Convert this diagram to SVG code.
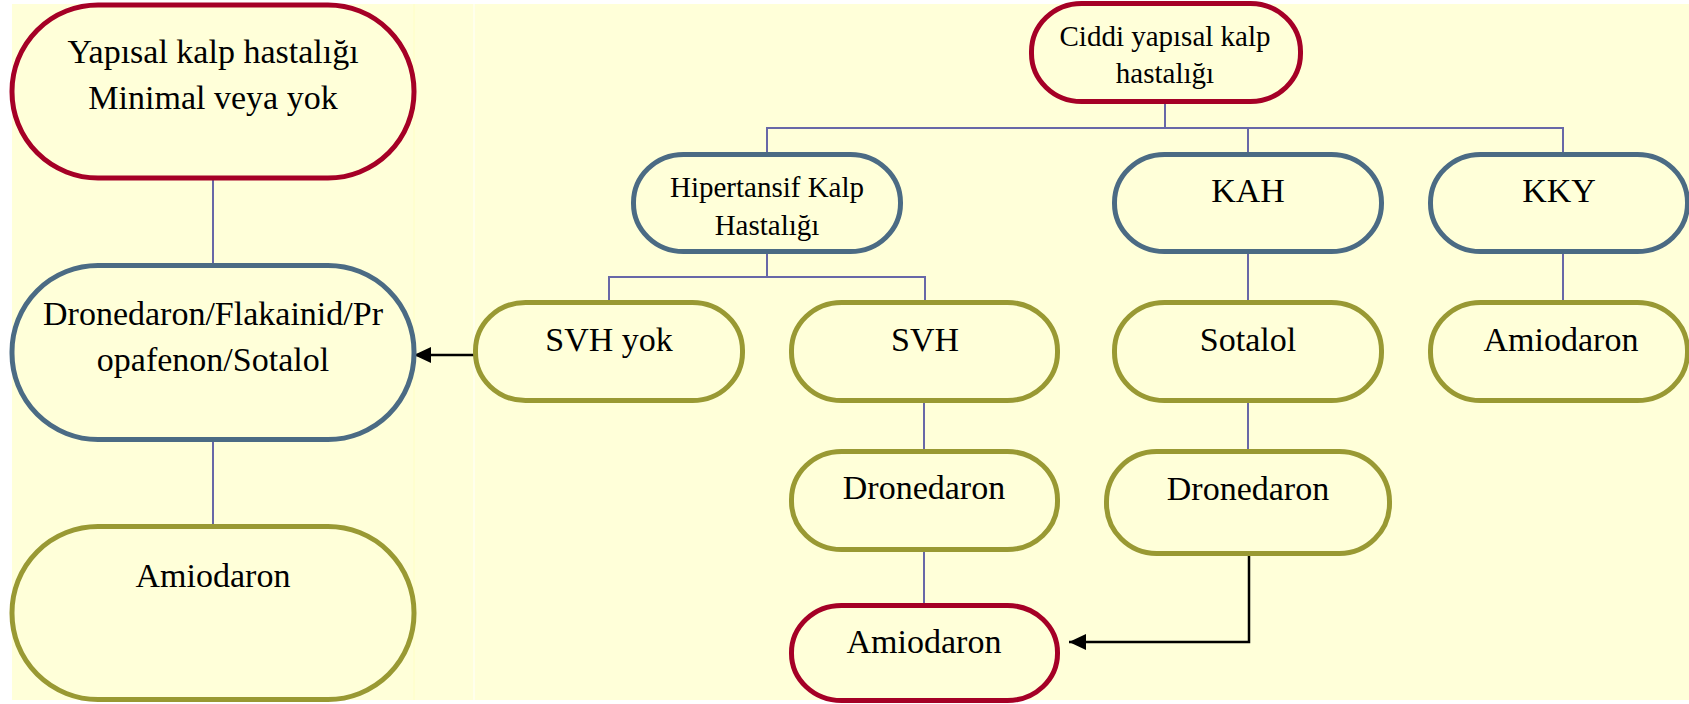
<svg xmlns="http://www.w3.org/2000/svg" width="1689" height="704" viewBox="0 0 1689 704">
<style>
.n rect{fill:#FFFFD9;stroke-width:5}
.red rect{stroke:#A50026}
.blue rect{stroke:#4B6B84}
.olive rect{stroke:#999933}
text{font-family:"Liberation Serif","Times New Roman",serif;fill:#000;text-anchor:middle}
.big{font-size:34px}
.sm{font-size:29px}
.c{fill:none;stroke:#6868A8;stroke-width:2}
.a{fill:none;stroke:#000;stroke-width:2.5}
</style>
<defs>
<marker id="ah" markerUnits="userSpaceOnUse" markerWidth="18" markerHeight="16" refX="17" refY="8" orient="auto">
<path d="M0,0 L17,8 L0,16 Z" fill="#000"/>
</marker>
</defs>
<rect x="0" y="0" width="1689" height="704" fill="#FFFFFF"/>
<rect x="12" y="4" width="1677" height="696" fill="#FFFFD9"/>
<line x1="414" y1="4" x2="414" y2="700" stroke="#FFFFC4" stroke-width="1"/>
<line x1="474" y1="4" x2="474" y2="700" stroke="#FFFFFF" stroke-width="1"/>

<g id="connectors">
<path class="c" d="M213,178 V265"/>
<path class="c" d="M213,440 V526"/>
<path class="c" d="M1165,102 V128 M767,152 V128 H1563 V152 M1248,128 V152"/>
<path class="c" d="M767,252 V277 M609,300 V277 H925 V300"/>
<path class="c" d="M1248,252 V300 M1563,252 V300"/>
<path class="c" d="M924,401 V449 M924,550 V603"/>
<path class="c" d="M1248,401 V449"/>
<path class="a" d="M475,355 H414" marker-end="url(#ah)"/>
<path class="a" d="M1249,547 V642 H1069" marker-end="url(#ah)"/>
</g>

<g id="n-yapisal" class="n red">
<rect x="12" y="5" width="402" height="173" rx="86" ry="86"/>
<text class="big" x="213" y="63">Yapısal kalp hastalığı</text>
<text class="big" x="213" y="109">Minimal veya yok</text>
</g>
<g id="n-dfps" class="n blue">
<rect x="12" y="265.5" width="402" height="174" rx="86" ry="86"/>
<text class="big" x="213" y="325">Dronedaron/Flakainid/Pr</text>
<text class="big" x="213" y="371">opafenon/Sotalol</text>
</g>
<g id="n-amio-left" class="n olive">
<rect x="12" y="526.5" width="402" height="173" rx="86" ry="86"/>
<text class="big" x="213" y="587">Amiodaron</text>
</g>

<g id="n-ciddi" class="n red">
<rect x="1031.5" y="3.5" width="269" height="98" rx="50" ry="48"/>
<text class="sm" x="1165" y="46">Ciddi yapısal kalp</text>
<text class="sm" x="1165" y="83">hastalığı</text>
</g>
<g id="n-hipertansif" class="n blue">
<rect x="633.5" y="154.5" width="267" height="97" rx="50" ry="48"/>
<text class="sm" x="767" y="197">Hipertansif Kalp</text>
<text class="sm" x="767" y="235">Hastalığı</text>
</g>
<g id="n-kah" class="n blue">
<rect x="1114.5" y="154.5" width="267" height="97" rx="50" ry="48"/>
<text class="big" x="1248" y="202">KAH</text>
</g>
<g id="n-kky" class="n blue">
<rect x="1430.5" y="154.5" width="257" height="97" rx="50" ry="48"/>
<text class="big" x="1559" y="202">KKY</text>
</g>
<g id="n-svhyok" class="n olive">
<rect x="475.5" y="302.5" width="267" height="98" rx="50" ry="48"/>
<text class="big" x="609" y="351">SVH yok</text>
</g>
<g id="n-svh" class="n olive">
<rect x="791.5" y="302.5" width="266" height="98" rx="50" ry="48"/>
<text class="big" x="925" y="351">SVH</text>
</g>
<g id="n-sotalol" class="n olive">
<rect x="1114.5" y="302.5" width="267" height="98" rx="50" ry="48"/>
<text class="big" x="1248" y="351">Sotalol</text>
</g>
<g id="n-amio-right" class="n olive">
<rect x="1430.5" y="302.5" width="257" height="98" rx="50" ry="48"/>
<text class="big" x="1561" y="351">Amiodaron</text>
</g>
<g id="n-dron1" class="n olive">
<rect x="791.5" y="451.5" width="266" height="98" rx="50" ry="48"/>
<text class="big" x="924" y="499">Dronedaron</text>
</g>
<g id="n-dron2" class="n olive">
<rect x="1106.5" y="451.5" width="283" height="102" rx="50" ry="50"/>
<text class="big" x="1248" y="500">Dronedaron</text>
</g>
<g id="n-amio-red" class="n red">
<rect x="791.5" y="605.5" width="266" height="95" rx="50" ry="47"/>
<text class="big" x="924" y="653">Amiodaron</text>
</g>
</svg>
